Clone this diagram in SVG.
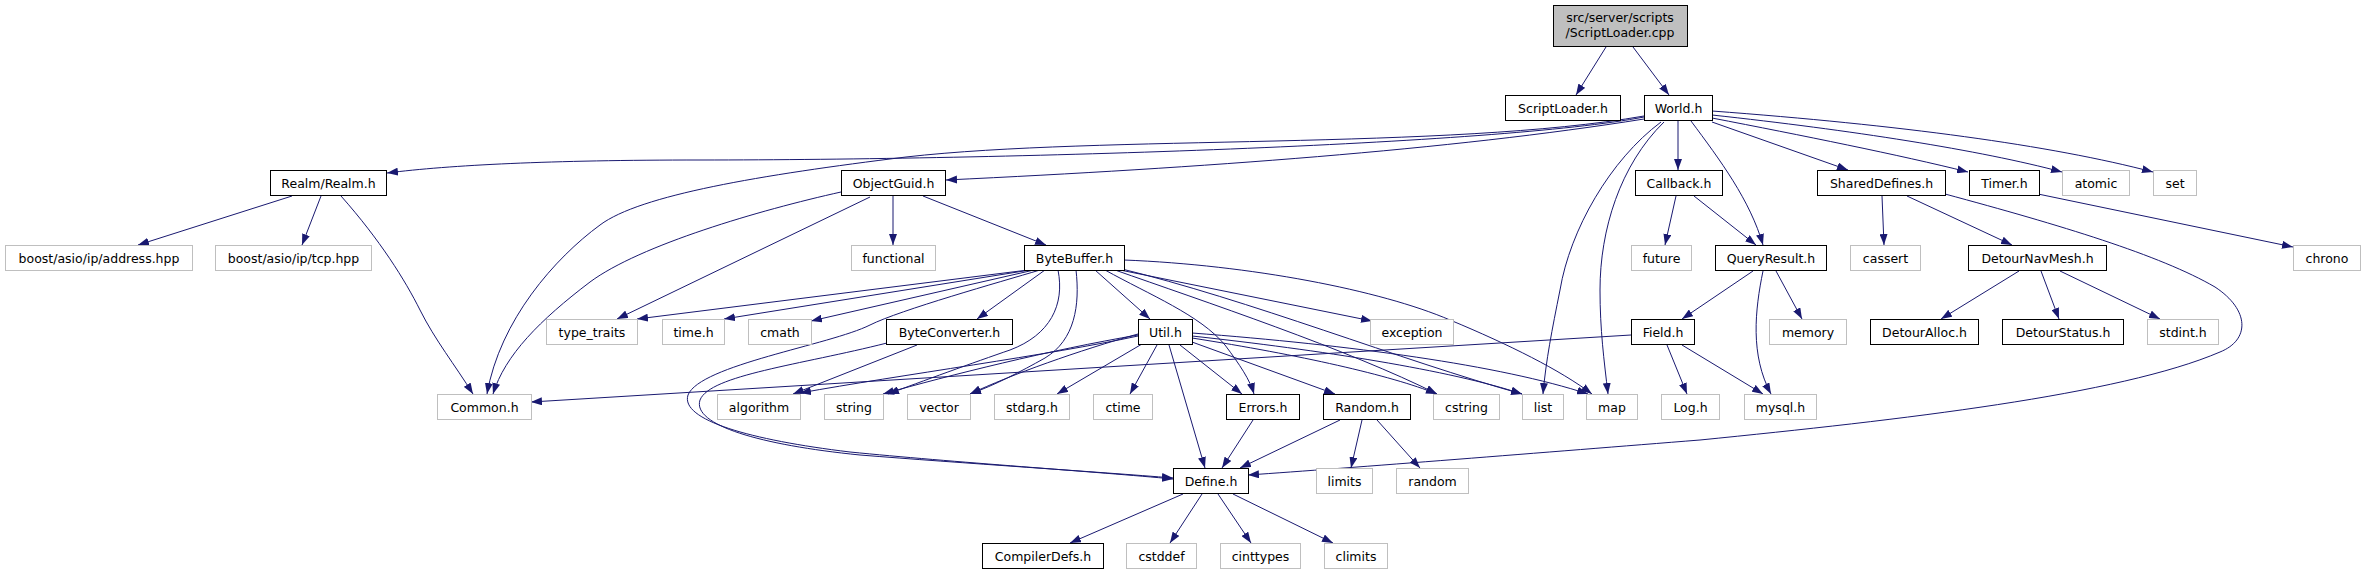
<svg xmlns="http://www.w3.org/2000/svg" width="2365" height="575" viewBox="0 0 2365 575">
<style>
.n rect{fill:#fff;stroke:#000;stroke-width:1}
.g rect{fill:#fff;stroke:#bfbfbf;stroke-width:1}
.r rect{fill:#bfbfbf;stroke:#000;stroke-width:1}
text{font-family:"DejaVu Sans","Liberation Sans",sans-serif;font-size:12.5px;fill:#000;text-anchor:middle}
#edges path{fill:none;stroke:#191970;stroke-width:1;marker-end:url(#a)}
</style>
<defs>
<marker id="a" markerUnits="userSpaceOnUse" markerWidth="11" markerHeight="8" refX="11" refY="4" orient="auto">
<path d="M0,0 L11,4 L0,8 z" fill="#191970"/>
</marker>
</defs>
<rect width="2365" height="575" fill="#fff"/>
<g id="edges">
<path d="M1606,47 L1576,95"/>
<path d="M1633,47 L1669,95"/>
<path d="M1644,117 C1500,145 1000,160 700,160 C550,160 450,165 387,173"/>
<path d="M1644,119 C1450,150 1200,168 946,180"/>
<path d="M1644,116 C1450,150 1100,135 906,157 C760,175 640,195 600,225 C555,258 500,320 487,394"/>
<path d="M841,192 C760,210 640,245 590,282 C540,320 505,355 493,394"/>
<path d="M292,196 L138,245"/>
<path d="M321,196 L302,245"/>
<path d="M341,196 C380,240 405,280 420,310 C435,340 455,365 473,394"/>
<path d="M893,196 L893,245"/>
<path d="M923,196 L1046,245"/>
<path d="M870,197 L617,319"/>
<path d="M1678,121 L1678,170"/>
<path d="M1691,121 C1720,160 1750,200 1763,245"/>
<path d="M1676,196 L1665,245"/>
<path d="M1694,196 L1756,245"/>
<path d="M1712,122 L1848,170"/>
<path d="M1712,118 C1800,135 1900,155 1968,172"/>
<path d="M1712,115 C1850,130 1980,150 2062,172"/>
<path d="M1712,111 C1900,125 2050,145 2153,172"/>
<path d="M1661,122 C1610,160 1570,230 1560,290 C1552,330 1546,360 1543,394"/>
<path d="M1664,122 C1620,165 1600,230 1600,290 C1600,330 1604,360 1608,394"/>
<path d="M1753,271 L1682,319"/>
<path d="M1776,271 L1802,319"/>
<path d="M1763,271 C1755,310 1750,355 1771,394"/>
<path d="M1631,335 L531,402"/>
<path d="M1667,345 L1687,394"/>
<path d="M1682,345 L1763,394"/>
<path d="M1882,196 L1884,245"/>
<path d="M1907,196 L2012,245"/>
<path d="M1945,194 C2060,225 2160,255 2215,287 C2250,310 2250,340 2220,352 C2120,395 1900,420 1700,440 C1550,452 1350,468 1248,475"/>
<path d="M2038,194 L2293,247"/>
<path d="M2019,271 L1941,319"/>
<path d="M2041,271 L2059,319"/>
<path d="M2060,271 L2160,319"/>
<path d="M1028,270 L637,319"/>
<path d="M1030,270 L724,319"/>
<path d="M1034,270 L811,321"/>
<path d="M1040,270 C1000,282 900,310 870,325 C830,345 700,365 688,395 C680,420 750,440 850,452 C950,462 1100,472 1173,479"/>
<path d="M887,343 C800,365 710,375 700,400 C692,425 760,445 860,455 C960,463 1100,472 1173,478"/>
<path d="M917,345 L793,394"/>
<path d="M1045,270 L977,319"/>
<path d="M1058,270 C1065,305 1050,335 1010,350 C975,362 920,382 888,394"/>
<path d="M1076,270 C1080,305 1075,340 1045,358 C1020,372 995,385 970,394"/>
<path d="M1095,270 L1150,319"/>
<path d="M1105,270 C1150,295 1200,315 1225,345 C1240,365 1250,380 1254,394"/>
<path d="M1120,270 L1372,321"/>
<path d="M1115,270 C1200,300 1350,350 1437,394"/>
<path d="M1118,268 C1250,300 1400,360 1522,394"/>
<path d="M1124,260 C1250,265 1380,290 1450,320 C1510,345 1560,370 1592,394"/>
<path d="M1138,336 C1050,355 900,375 800,393"/>
<path d="M1138,335 C1050,350 950,375 883,394"/>
<path d="M1138,334 C1080,350 1010,375 970,394"/>
<path d="M1142,344 L1057,394"/>
<path d="M1157,345 L1130,394"/>
<path d="M1169,345 L1205,468"/>
<path d="M1180,345 L1242,394"/>
<path d="M1192,342 L1335,394"/>
<path d="M1192,338 C1300,355 1390,375 1437,394"/>
<path d="M1192,336 C1320,350 1450,370 1522,394"/>
<path d="M1192,333 C1350,345 1500,365 1588,394"/>
<path d="M1253,420 L1222,468"/>
<path d="M1340,420 L1240,468"/>
<path d="M1362,420 L1351,468"/>
<path d="M1377,420 L1420,468"/>
<path d="M1183,494 L1070,543"/>
<path d="M1202,494 L1170,543"/>
<path d="M1218,494 L1251,543"/>
<path d="M1233,494 L1333,543"/>
</g>
<g id="n_root" class="r"><rect x="1553.5" y="5.5" width="134" height="41"/><text x="1620" y="22">src/server/scripts</text><text x="1620" y="37">/ScriptLoader.cpp</text></g>
<g id="n_scriptloader_h" class="n"><rect x="1505.5" y="95.5" width="115" height="25"/><text x="1563" y="112.5">ScriptLoader.h</text></g>
<g id="n_world" class="n"><rect x="1644.5" y="95.5" width="68" height="25"/><text x="1678.5" y="112.5">World.h</text></g>
<g id="n_realm" class="n"><rect x="270.5" y="170.5" width="116" height="25"/><text x="328.5" y="187.5">Realm/Realm.h</text></g>
<g id="n_objectguid" class="n"><rect x="841.5" y="170.5" width="104" height="25"/><text x="893.5" y="187.5">ObjectGuid.h</text></g>
<g id="n_callback" class="n"><rect x="1635.5" y="170.5" width="87" height="25"/><text x="1679" y="187.5">Callback.h</text></g>
<g id="n_shareddefines" class="n"><rect x="1817.5" y="170.5" width="128" height="25"/><text x="1881.5" y="187.5">SharedDefines.h</text></g>
<g id="n_timer" class="n"><rect x="1969.5" y="170.5" width="70" height="25"/><text x="2004.5" y="187.5">Timer.h</text></g>
<g id="n_atomic" class="g"><rect x="2062.5" y="170.5" width="67" height="25"/><text x="2096" y="187.5">atomic</text></g>
<g id="n_set" class="g"><rect x="2153.5" y="170.5" width="43" height="25"/><text x="2175" y="187.5">set</text></g>
<g id="n_address" class="g"><rect x="5.5" y="245.5" width="187" height="25"/><text x="99" y="262.5">boost/asio/ip/address.hpp</text></g>
<g id="n_tcp" class="g"><rect x="215.5" y="245.5" width="156" height="25"/><text x="293.5" y="262.5">boost/asio/ip/tcp.hpp</text></g>
<g id="n_functional" class="g"><rect x="851.5" y="245.5" width="84" height="25"/><text x="893.5" y="262.5">functional</text></g>
<g id="n_bytebuffer" class="n"><rect x="1024.5" y="245.5" width="100" height="25"/><text x="1074.5" y="262.5">ByteBuffer.h</text></g>
<g id="n_future" class="g"><rect x="1631.5" y="245.5" width="60" height="25"/><text x="1661.5" y="262.5">future</text></g>
<g id="n_queryresult" class="n"><rect x="1715.5" y="245.5" width="111" height="25"/><text x="1771" y="262.5">QueryResult.h</text></g>
<g id="n_cassert" class="g"><rect x="1850.5" y="245.5" width="70" height="25"/><text x="1885.5" y="262.5">cassert</text></g>
<g id="n_detournavmesh" class="n"><rect x="1968.5" y="245.5" width="138" height="25"/><text x="2037.5" y="262.5">DetourNavMesh.h</text></g>
<g id="n_chrono" class="g"><rect x="2293.5" y="245.5" width="67" height="25"/><text x="2327" y="262.5">chrono</text></g>
<g id="n_type_traits" class="g"><rect x="546.5" y="319.5" width="91" height="25"/><text x="592" y="336.5">type_traits</text></g>
<g id="n_time_h" class="g"><rect x="662.5" y="319.5" width="62" height="25"/><text x="693.5" y="336.5">time.h</text></g>
<g id="n_cmath" class="g"><rect x="748.5" y="319.5" width="63" height="25"/><text x="780" y="336.5">cmath</text></g>
<g id="n_byteconverter" class="n"><rect x="886.5" y="319.5" width="126" height="25"/><text x="949.5" y="336.5">ByteConverter.h</text></g>
<g id="n_util" class="n"><rect x="1138.5" y="319.5" width="54" height="25"/><text x="1165.5" y="336.5">Util.h</text></g>
<g id="n_exception" class="g"><rect x="1370.5" y="319.5" width="83" height="25"/><text x="1412" y="336.5">exception</text></g>
<g id="n_field" class="n"><rect x="1631.5" y="319.5" width="63" height="25"/><text x="1663" y="336.5">Field.h</text></g>
<g id="n_memory" class="g"><rect x="1769.5" y="319.5" width="77" height="25"/><text x="1808" y="336.5">memory</text></g>
<g id="n_detouralloc" class="n"><rect x="1870.5" y="319.5" width="108" height="25"/><text x="1924.5" y="336.5">DetourAlloc.h</text></g>
<g id="n_detourstatus" class="n"><rect x="2002.5" y="319.5" width="121" height="25"/><text x="2063" y="336.5">DetourStatus.h</text></g>
<g id="n_stdint" class="g"><rect x="2147.5" y="319.5" width="71" height="25"/><text x="2183" y="336.5">stdint.h</text></g>
<g id="n_common" class="g"><rect x="437.5" y="394.5" width="94" height="25"/><text x="484.5" y="411.5">Common.h</text></g>
<g id="n_algorithm" class="g"><rect x="717.5" y="394.5" width="83" height="25"/><text x="759" y="411.5">algorithm</text></g>
<g id="n_string" class="g"><rect x="824.5" y="394.5" width="59" height="25"/><text x="854" y="411.5">string</text></g>
<g id="n_vector" class="g"><rect x="907.5" y="394.5" width="63" height="25"/><text x="939" y="411.5">vector</text></g>
<g id="n_stdarg" class="g"><rect x="994.5" y="394.5" width="75" height="25"/><text x="1032" y="411.5">stdarg.h</text></g>
<g id="n_ctime" class="g"><rect x="1093.5" y="394.5" width="59" height="25"/><text x="1123" y="411.5">ctime</text></g>
<g id="n_errors" class="n"><rect x="1226.5" y="394.5" width="73" height="25"/><text x="1263" y="411.5">Errors.h</text></g>
<g id="n_random_h" class="n"><rect x="1323.5" y="394.5" width="87" height="25"/><text x="1367" y="411.5">Random.h</text></g>
<g id="n_cstring" class="g"><rect x="1433.5" y="394.5" width="66" height="25"/><text x="1466.5" y="411.5">cstring</text></g>
<g id="n_list" class="g"><rect x="1522.5" y="394.5" width="41" height="25"/><text x="1543" y="411.5">list</text></g>
<g id="n_map" class="g"><rect x="1586.5" y="394.5" width="51" height="25"/><text x="1612" y="411.5">map</text></g>
<g id="n_log" class="g"><rect x="1661.5" y="394.5" width="58" height="25"/><text x="1690.5" y="411.5">Log.h</text></g>
<g id="n_mysql" class="g"><rect x="1744.5" y="394.5" width="72" height="25"/><text x="1780.5" y="411.5">mysql.h</text></g>
<g id="n_define" class="n"><rect x="1173.5" y="468.5" width="75" height="25"/><text x="1211" y="485.5">Define.h</text></g>
<g id="n_limits" class="g"><rect x="1316.5" y="468.5" width="56" height="25"/><text x="1344.5" y="485.5">limits</text></g>
<g id="n_random" class="g"><rect x="1396.5" y="468.5" width="72" height="25"/><text x="1432.5" y="485.5">random</text></g>
<g id="n_compilerdefs" class="n"><rect x="982.5" y="543.5" width="121" height="25"/><text x="1043" y="560.5">CompilerDefs.h</text></g>
<g id="n_cstddef" class="g"><rect x="1126.5" y="543.5" width="70" height="25"/><text x="1161.5" y="560.5">cstddef</text></g>
<g id="n_cinttypes" class="g"><rect x="1220.5" y="543.5" width="80" height="25"/><text x="1260.5" y="560.5">cinttypes</text></g>
<g id="n_climits" class="g"><rect x="1324.5" y="543.5" width="63" height="25"/><text x="1356" y="560.5">climits</text></g>
</svg>
